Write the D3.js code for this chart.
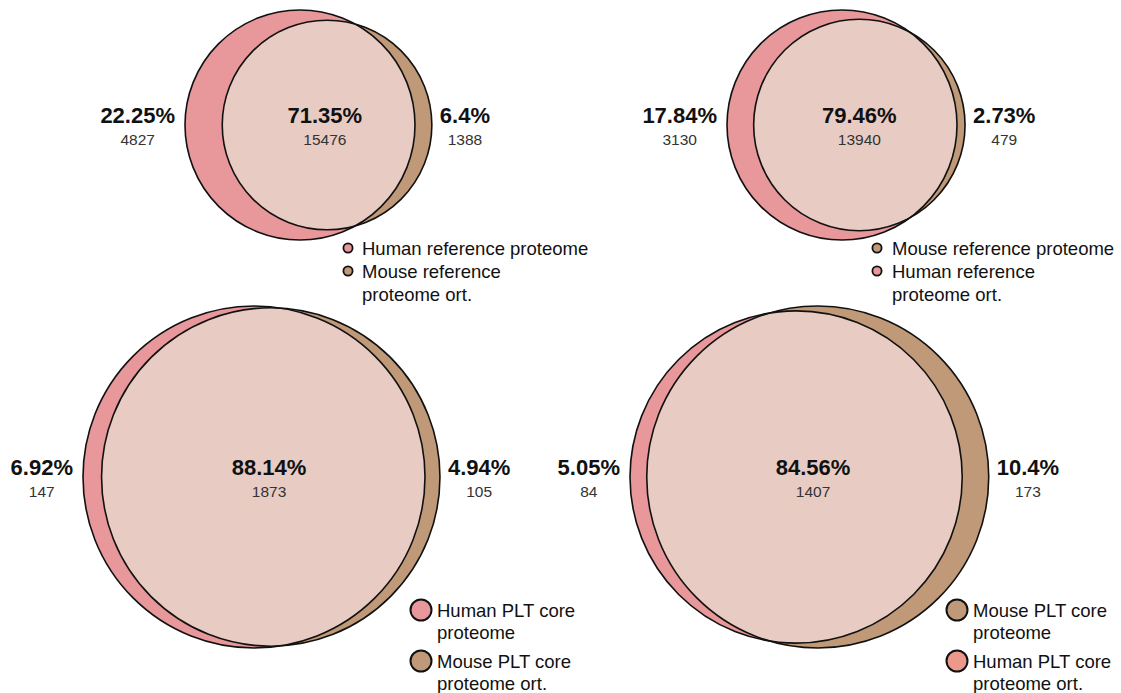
<!DOCTYPE html>
<html>
<head>
<meta charset="utf-8">
<script src="https://cdn.jsdelivr.net/npm/d3@7"></script>
<style>
  html, body { margin: 0; padding: 0; background: #ffffff; }
  svg { display: block; font-family: "Liberation Sans", Arial, Helvetica, sans-serif; }
</style>
</head>
<body>
<svg id="chart" width="1121" height="693"></svg>
<script>
// ---- data ----
const panelNames   = ["Reference proteome (human)", "Reference proteome (mouse)", "PLT core proteome (human)", "PLT core proteome (mouse)"];
const leftOnly     = [4827, 3130, 147, 84];       // human-only
const overlapCount = [15476, 13940, 1873, 1407];  // shared
const rightOnly    = [1388, 479, 105, 173];       // mouse-only
const leftPct      = ["22.25%", "17.84%", "6.92%", "5.05%"];
const overlapPct   = ["71.35%", "79.46%", "88.14%", "84.56%"];
const rightPct     = ["6.4%", "2.73%", "4.94%", "10.4%"];
const legendItems  = [
  [["Human reference proteome"], ["Mouse reference", "proteome ort."]],
  [["Mouse reference proteome"], ["Human reference", "proteome ort."]],
  [["Human PLT core", "proteome"], ["Mouse PLT core", "proteome ort."]],
  [["Mouse PLT core", "proteome"], ["Human PLT core", "proteome ort."]]
];
const legendSets   = [["human", "mouse"], ["mouse", "human"], ["human", "mouse"], ["mouse", "humanOrt"]];

// ---- layout / style ----
const layout = [
  { left: 185, cy: 125, R: 115, lgX: 348, lgY: 248, lgR: 4.6, lgTx: 362, lgGap: 23, lineGap: 23 },
  { left: 727, cy: 125, R: 115, lgX: 877, lgY: 248, lgR: 4.6, lgTx: 892, lgGap: 23, lineGap: 23 },
  { left: 83,  cy: 477, R: 171, lgX: 421, lgY: 610, lgR: 10.5, lgTx: 437, lgGap: 51, lineGap: 22.5 },
  { left: 630, cy: 477, R: 171, lgX: 957, lgY: 610, lgR: 10.5, lgTx: 973, lgGap: 51, lineGap: 22.5 }
];
const colors = { human: "#e8979a", mouse: "#c09a78", overlap: "#e8ccc3", humanOrt: "#ec988b" };

const svg = d3.select("#chart");

function lensArea(d, r1, r2) {
  if (d >= r1 + r2) return 0;
  if (d <= Math.abs(r1 - r2)) return Math.PI * Math.min(r1, r2) ** 2;
  const a = r1 * r1 * Math.acos((d * d + r1 * r1 - r2 * r2) / (2 * d * r1));
  const b = r2 * r2 * Math.acos((d * d + r2 * r2 - r1 * r1) / (2 * d * r2));
  const c = 0.5 * Math.sqrt((-d + r1 + r2) * (d + r1 - r2) * (d - r1 + r2) * (d + r1 + r2));
  return a + b - c;
}
function solveDistance(r1, r2, target) {
  let lo = Math.abs(r1 - r2), hi = r1 + r2;
  for (let i = 0; i < 100; i++) {
    const mid = (lo + hi) / 2;
    if (lensArea(mid, r1, r2) > target) lo = mid; else hi = mid;
  }
  return (lo + hi) / 2;
}

panelNames.forEach((name, i) => {
  const L = layout[i];
  const totLeft = leftOnly[i] + overlapCount[i];
  const totRight = overlapCount[i] + rightOnly[i];
  const maxTot = Math.max(totLeft, totRight);
  const rScale = d3.scaleSqrt().domain([0, maxTot]).range([0, L.R]);
  const r1 = rScale(totLeft), r2 = rScale(totRight);
  const target = overlapCount[i] * Math.PI * L.R * L.R / maxTot;
  const d = solveDistance(r1, r2, target);
  const c1 = L.left + r1, c2 = c1 + d;
  const cy = L.cy;

  const g = svg.append("g").attr("class", "venn").attr("data-name", name);
  const clipId = "clip" + i;
  g.append("clipPath").attr("id", clipId)
    .append("circle").attr("cx", c1).attr("cy", cy).attr("r", r1);

  g.append("circle").attr("cx", c1).attr("cy", cy).attr("r", r1).attr("fill", colors.human);
  g.append("circle").attr("cx", c2).attr("cy", cy).attr("r", r2).attr("fill", colors.mouse);
  g.append("circle").attr("cx", c2).attr("cy", cy).attr("r", r2)
    .attr("fill", colors.overlap).attr("clip-path", `url(#${clipId})`);
  [[c1, r1], [c2, r2]].forEach(([cx, r]) => {
    g.append("circle").attr("cx", cx).attr("cy", cy).attr("r", r)
      .attr("fill", "none").attr("stroke", "#111").attr("stroke-width", 1.6);
  });

  const leftEdge = Math.min(c1 - r1, c2 - r2);
  const rightEdge = Math.max(c1 + r1, c2 + r2);
  const interMid = (Math.max(c1 - r1, c2 - r2) + Math.min(c1 + r1, c2 + r2)) / 2;
  const midX = (interMid + c2) / 2 + 2;

  const labels = [
    { x: leftEdge - 10, anchor: "end", pct: leftPct[i], n: leftOnly[i] },
    { x: midX, anchor: "middle", pct: overlapPct[i], n: overlapCount[i] },
    { x: rightEdge + 8, anchor: "start", pct: rightPct[i], n: rightOnly[i] }
  ];
  labels.forEach(lb => {
    const p = g.append("text").attr("x", lb.x).attr("y", cy - 2)
      .attr("text-anchor", lb.anchor).attr("font-size", 22).attr("font-weight", "bold")
      .attr("fill", "#111").text(lb.pct);
    const bb = p.node().getBBox();
    g.append("text").attr("x", bb.x + bb.width / 2).attr("y", cy + 20)
      .attr("text-anchor", "middle").attr("font-size", 15.5).attr("fill", "#333").text(lb.n);
  });

  // legend
  const lg = svg.append("g").attr("class", "legend");
  legendItems[i].forEach((lines, k) => {
    const y0 = L.lgY + k * L.lgGap;
    lg.append("circle").attr("cx", L.lgX).attr("cy", y0).attr("r", L.lgR)
      .attr("fill", colors[legendSets[i][k]]).attr("stroke", "#111").attr("stroke-width", L.lgR > 6 ? 2 : 1.8);
    lines.forEach((ln, j) => {
      lg.append("text").attr("x", L.lgTx).attr("y", y0 + 6.5 + j * L.lineGap)
        .attr("font-size", 18.5).attr("fill", "#111").text(ln);
    });
  });
});
</script>
</body>
</html>
